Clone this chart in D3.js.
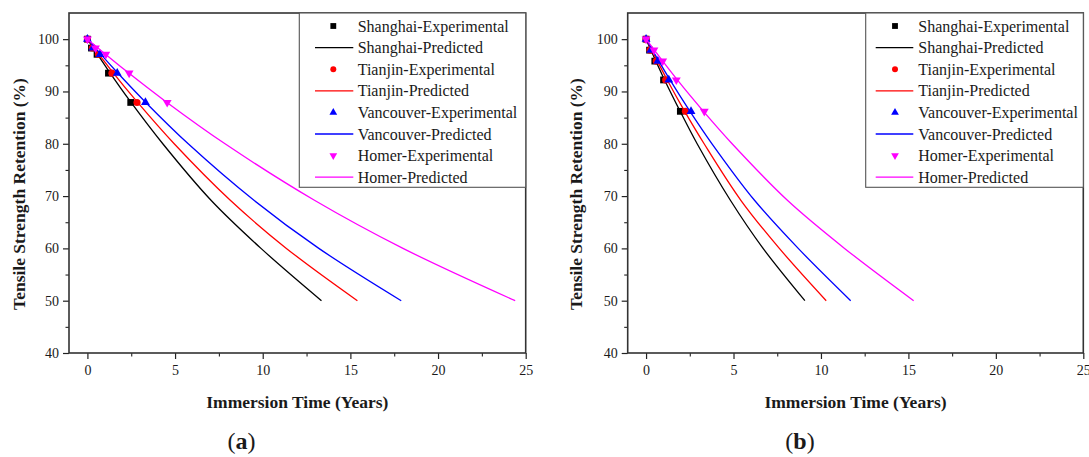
<!DOCTYPE html>
<html>
<head>
<meta charset="utf-8">
<script src="https://cdn.jsdelivr.net/npm/d3@7"></script>
<style>
  html, body { margin: 0; padding: 0; background: #ffffff; }
  svg { display: block; }
  text { font-family: "Liberation Serif", "Times New Roman", serif; fill: #1a1a1a; }
</style>
</head>
<body>
<svg id="chart" width="1089" height="457"></svg>
<script>
// ---------------- DATA ----------------
const seriesNames = ["Shanghai", "Tianjin", "Vancouver", "Homer"];
const xTicks = [0, 5, 10, 15, 20, 25];
const xMinorTicks = [2.5, 7.5, 12.5, 17.5, 22.5];
const yTicks = [40, 50, 60, 70, 80, 90, 100];
const yMinorTicks = [45, 55, 65, 75, 85, 95];
const panelLabels = ["a", "b"];

// Panel (a) experimental: retention levels (%) and immersion times (years)
const expRetentionA = [100, 98.3, 97.1, 93.5, 87.9];
const expTimeA_Shanghai = [0, 0.23, 0.55, 1.2, 2.47];
const expTimeA_Tianjin = [0, 0.28, 0.63, 1.4, 2.83];
const expTimeA_Vancouver = [0, 0.31, 0.72, 1.7, 3.31];
const expTimeA_Homer = [0, 0.46, 1.05, 2.38, 4.55];

// Panel (a) predicted curves
const predRetentionA = [100, 94, 88, 80, 69.2, 60, 50];
const predTimeA_Shanghai = [0, 1.2, 2.47, 4.3, 7.05, 9.9, 13.35];
const predTimeA_Tianjin = [0, 1.37, 2.84, 4.95, 8.15, 11.35, 15.4];
const predTimeA_Vancouver = [0, 1.6, 3.3, 5.75, 9.5, 13.2, 17.9];
const predTimeA_Homer = [0, 2.18, 4.5, 7.85, 12.95, 18.0, 24.4];

// Panel (b) experimental
const expRetentionB = [100, 97.9, 95.8, 92.2, 86.2];
const expTimeB_Shanghai = [0, 0.2, 0.5, 1.0, 1.96];
const expTimeB_Tianjin = [0, 0.23, 0.58, 1.12, 2.25];
const expTimeB_Vancouver = [0, 0.27, 0.67, 1.3, 2.57];
const expTimeB_Homer = [0, 0.45, 0.95, 1.73, 3.33];

// Panel (b) predicted curves
const predRetentionB = [100, 92.2, 86.2, 80, 69.2, 60, 50];
const predTimeB_Shanghai = [0, 1.06, 1.95, 2.92, 4.82, 6.69, 9.08];
const predTimeB_Tianjin = [0, 1.21, 2.21, 3.32, 5.42, 7.62, 10.3];
const predTimeB_Vancouver = [0, 1.37, 2.51, 3.77, 6.2, 8.7, 11.7];
const predTimeB_Homer = [0, 1.79, 3.28, 4.92, 8.08, 11.35, 15.3];

// ---------------- STYLE / LAYOUT ----------------
const seriesColors = ["#000000", "#ff0000", "#0000ff", "#ff00ff"];
const seriesSymbols = [d3.symbolSquare, d3.symbolCircle, d3.symbolTriangle, d3.symbolTriangle];
const seriesRot = [0, 0, 0, 180];
const markerSize = [46, 40, 34, 34];
const legendMarkerSize = [34, 28, 26, 26];

const panelData = [
  {
    expRet: expRetentionA,
    expTimes: [expTimeA_Shanghai, expTimeA_Tianjin, expTimeA_Vancouver, expTimeA_Homer],
    predRet: predRetentionA,
    predTimes: [predTimeA_Shanghai, predTimeA_Tianjin, predTimeA_Vancouver, predTimeA_Homer]
  },
  {
    expRet: expRetentionB,
    expTimes: [expTimeB_Shanghai, expTimeB_Tianjin, expTimeB_Vancouver, expTimeB_Homer],
    predRet: predRetentionB,
    predTimes: [predTimeB_Shanghai, predTimeB_Tianjin, predTimeB_Vancouver, predTimeB_Homer]
  }
];

const layouts = [
  { left: 69, right: 525.7, top: 13, bottom: 353, legLeft: 299.3, lineX1: 315, lineX2: 353.3, symX: 333.3, textX: 357.7, yTitleX: 25, labelX: 241.5 },
  { left: 627.7, right: 1083.3, top: 13, bottom: 353, legLeft: 865.7, lineX1: 875.7, lineX2: 913.3, symX: 895, textX: 918.3, yTitleX: 582, labelX: 800 }
];
const legendBottom = 187.3;
const legendRowY0 = 26, legendRowStep = 21.6;

const svg = d3.select("#chart");

panelData.forEach((pd, pi) => {
  const L = layouts[pi];
  const x = d3.scaleLinear().domain([-1.05, 25]).range([L.left, L.right]);
  const y = d3.scaleLinear().domain([40, 105]).range([L.bottom, L.top]);
  const g = svg.append("g");

  // y axis
  const yAx = g.append("g").attr("transform", `translate(${L.left},0)`)
    .call(d3.axisLeft(y).tickValues(yTicks).tickSize(6).tickPadding(4).tickFormat(d3.format("d")));
  yAx.select(".domain").remove();
  yAx.selectAll("line").attr("stroke", "#222").attr("stroke-width", 1.2);
  yAx.selectAll("text").attr("font-size", 14).attr("font-family", "Liberation Serif").attr("fill", "#1a1a1a");
  const yMin = g.append("g").attr("transform", `translate(${L.left},0)`)
    .call(d3.axisLeft(y).tickValues(yMinorTicks).tickSize(3.5).tickFormat(""));
  yMin.select(".domain").remove();
  yMin.selectAll("line").attr("stroke", "#222").attr("stroke-width", 1.1);

  // x axis
  const xAx = g.append("g").attr("transform", `translate(0,${L.bottom})`)
    .call(d3.axisBottom(x).tickValues(xTicks).tickSize(6).tickPadding(6).tickFormat(d3.format("d")));
  xAx.select(".domain").remove();
  xAx.selectAll("line").attr("stroke", "#222").attr("stroke-width", 1.2);
  xAx.selectAll("text").attr("font-size", 14).attr("font-family", "Liberation Serif").attr("fill", "#1a1a1a");
  const xMin = g.append("g").attr("transform", `translate(0,${L.bottom})`)
    .call(d3.axisBottom(x).tickValues(xMinorTicks).tickSize(3.5).tickFormat(""));
  xMin.select(".domain").remove();
  xMin.selectAll("line").attr("stroke", "#222").attr("stroke-width", 1.1);

  // data: series drawn in legend order (exp then predicted)
  const line = d3.line().x(d => x(d[0])).y(d => y(d[1])).curve(d3.curveCatmullRom.alpha(0.5));
  seriesNames.forEach((name, si) => {
    const pts = pd.expTimes[si].map((t, k) => [t, pd.expRet[k]]);
    g.append("g").selectAll("path").data(pts).join("path")
      .attr("d", d3.symbol().type(seriesSymbols[si]).size(markerSize[si]))
      .attr("transform", d => `translate(${x(d[0])},${y(d[1])}) rotate(${seriesRot[si]})`)
      .attr("fill", seriesColors[si]);
    const curve = pd.predTimes[si].map((t, k) => [t, pd.predRet[k]]);
    g.append("path").datum(curve)
      .attr("d", line)
      .attr("fill", "none")
      .attr("stroke", seriesColors[si])
      .attr("stroke-width", 1.3);
  });

  // frame
  g.append("rect")
    .attr("x", L.left).attr("y", L.top)
    .attr("width", L.right - L.left).attr("height", L.bottom - L.top)
    .attr("fill", "none").attr("stroke", "#333").attr("stroke-width", 1.6);

  // legend
  const lg = g.append("g");
  lg.append("rect")
    .attr("x", L.legLeft).attr("y", L.top)
    .attr("width", L.right - L.legLeft).attr("height", legendBottom - L.top)
    .attr("fill", "#ffffff").attr("stroke", "#555").attr("stroke-width", 1.1);
  seriesNames.forEach((name, si) => {
    const yE = legendRowY0 + legendRowStep * (2 * si);
    const yP = legendRowY0 + legendRowStep * (2 * si + 1);
    lg.append("path")
      .attr("d", d3.symbol().type(seriesSymbols[si]).size(legendMarkerSize[si]))
      .attr("transform", `translate(${L.symX},${yE}) rotate(${seriesRot[si]})`)
      .attr("fill", seriesColors[si]);
    lg.append("text").attr("x", L.textX).attr("y", yE).attr("dy", "0.35em")
      .attr("font-size", 16).text(name + "-Experimental");
    lg.append("line")
      .attr("x1", L.lineX1).attr("x2", L.lineX2).attr("y1", yP).attr("y2", yP)
      .attr("stroke", seriesColors[si]).attr("stroke-width", 1.3);
    lg.append("text").attr("x", L.textX).attr("y", yP).attr("dy", "0.35em")
      .attr("font-size", 16).text(name + "-Predicted");
  });

  // axis titles
  g.append("text")
    .attr("transform", `translate(${L.yTitleX},194) rotate(-90)`)
    .attr("text-anchor", "middle").attr("font-weight", "bold").attr("font-size", 17.5)
    .text("Tensile Strength Retention (%)");
  g.append("text")
    .attr("x", (L.left + L.right) / 2).attr("y", 408)
    .attr("text-anchor", "middle").attr("font-weight", "bold").attr("font-size", 17.5)
    .text("Immersion Time (Years)");

  // panel label
  const pl = g.append("text")
    .attr("x", L.labelX).attr("y", 449)
    .attr("text-anchor", "middle").attr("font-size", 24);
  pl.append("tspan").text("(");
  pl.append("tspan").attr("font-weight", "bold").text(panelLabels[pi]);
  pl.append("tspan").text(")");
});
</script>
</body>
</html>
